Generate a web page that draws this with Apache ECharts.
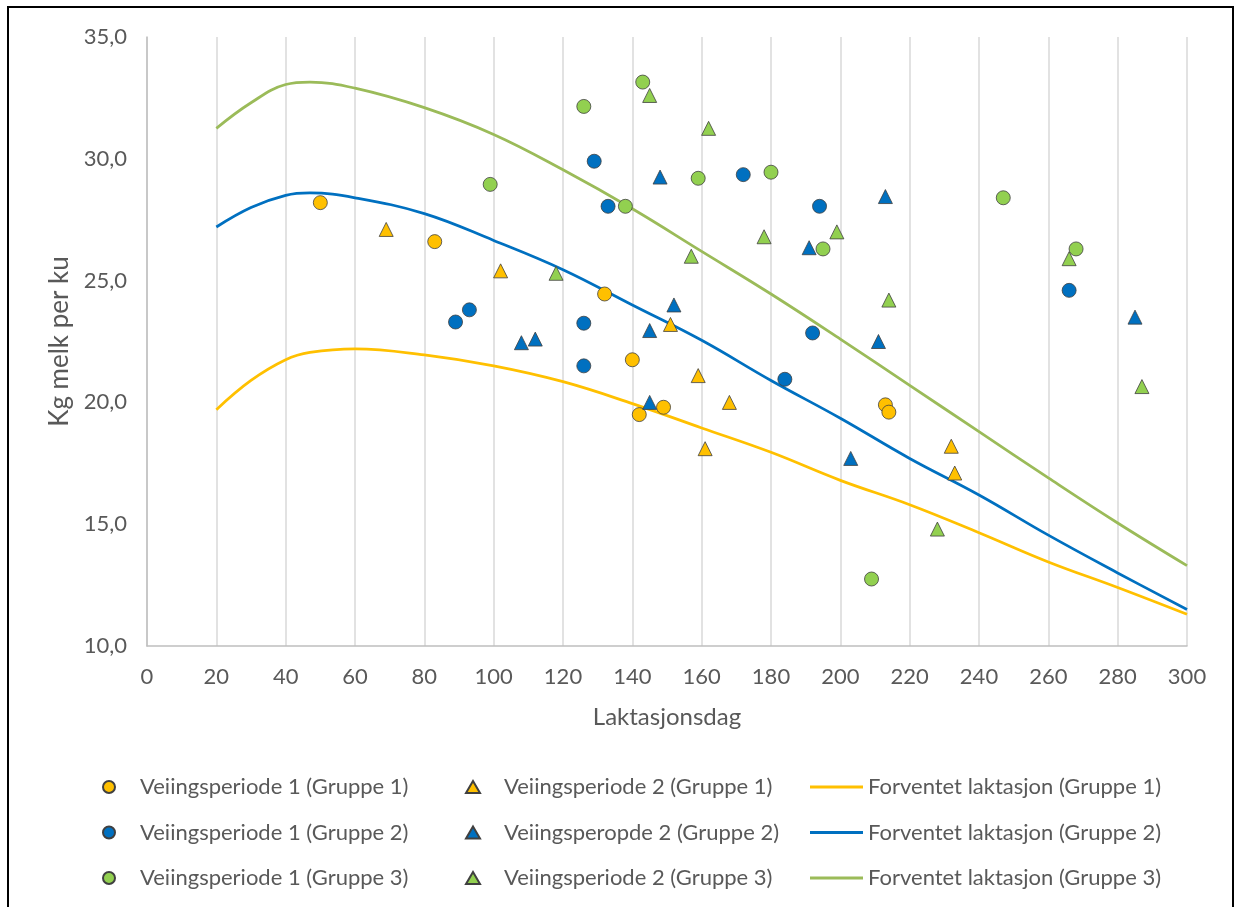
<!DOCTYPE html>
<html>
<head>
<meta charset="utf-8">
<script src="https://cdn.jsdelivr.net/npm/echarts@6/dist/echarts.min.js"></script>
<style>
  html, body { margin: 0; padding: 0; background: #fff; }
  #frame { position: absolute; left: 7px; top: 6px; width: 1227px; height: 920px; border: 2px solid #000; box-sizing: border-box; }
  #main { position: absolute; left: 0; top: 0; width: 1235px; height: 907px; }
</style>
</head>
<body>
<div id="frame"></div>
<div id="main"></div>
<script>
// expected lactation curves
var curveDays = [20, 30, 40, 47, 60, 80, 100, 120, 140, 160, 180, 200, 220, 240, 260, 280, 300];
var curveG1 = [19.7, 20.9, 21.75, 22.05, 22.2, 21.95, 21.5, 20.85, 19.95, 18.95, 17.95, 16.8, 15.8, 14.65, 13.45, 12.4, 11.3];
var curveG2 = [27.2, 28.0, 28.5, 28.6, 28.4, 27.75, 26.65, 25.45, 24.0, 22.55, 20.9, 19.35, 17.7, 16.2, 14.55, 13.0, 11.5];
var curveG3 = [31.25, 32.3, 33.05, 33.15, 32.9, 32.1, 31.0, 29.55, 27.95, 26.2, 24.45, 22.6, 20.7, 18.8, 16.9, 15.05, 13.3];

// weighing period 1 (circles)
var p1g1Day = [50, 83, 132, 140, 142, 149, 213, 214];
var p1g1Kg  = [28.2, 26.6, 24.45, 21.75, 19.5, 19.8, 19.9, 19.6];
var p1g2Day = [89, 93, 129, 133, 126, 126, 172, 194, 192, 184, 266];
var p1g2Kg  = [23.3, 23.8, 29.9, 28.05, 23.25, 21.5, 29.35, 28.05, 22.85, 20.95, 24.6];
var p1g3Day = [99, 126, 143, 138, 159, 180, 195, 247, 268, 209];
var p1g3Kg  = [28.95, 32.15, 33.15, 28.05, 29.2, 29.45, 26.3, 28.4, 26.3, 12.75];

// weighing period 2 (triangles)
var p2g1Day = [69, 102, 151, 159, 168, 161, 232, 233];
var p2g1Kg  = [27.1, 25.4, 23.2, 21.1, 20.0, 18.1, 18.2, 17.1];
var p2g2Day = [108, 112, 148, 145, 152, 145, 213, 191, 211, 203, 285];
var p2g2Kg  = [22.45, 22.6, 29.25, 22.95, 24.0, 20.0, 28.45, 26.35, 22.5, 17.7, 23.5];
var p2g3Day = [145, 162, 118, 157, 178, 199, 214, 266, 287, 228];
var p2g3Kg  = [32.6, 31.25, 25.3, 26.0, 26.8, 27.0, 24.2, 25.9, 20.65, 14.8];

var xTicks = [0, 300, 20];
var yTicks = [10, 35, 5];

var orange = '#FFC000', blue = '#0070C0', green = '#92D050', lineGreen = '#9BBB59';
var txt = '#595959';
var font = 'Lato';
var triIcon = 'path://M7,0 L14,12 L0,12 Z';

function pairs(xs, ys) {
    return xs.map(function (x, i) { return [x, ys[i]]; });
}

function curve(name, ys, color) {
    return {
        name: name, type: 'line', smooth: 0.4, symbol: 'none', z: 1,
        lineStyle: { color: color, width: 2.75 }, itemStyle: { color: color },
        data: pairs(curveDays, ys)
    };
}

function dots(name, xs, ys, color, symbol) {
    return {
        name: name, type: 'scatter', symbol: symbol, symbolSize: 14, z: 3,
        itemStyle: { color: color, borderColor: '#404040', borderWidth: 0.8, opacity: 1 },
        data: pairs(xs, ys)
    };
}

var names1 = ['Veiingsperiode 1 (Gruppe 1)', 'Veiingsperiode 1 (Gruppe 2)', 'Veiingsperiode 1 (Gruppe 3)'];
var names2 = ['Veiingsperiode 2 (Gruppe 1)', 'Veiingsperopde 2 (Gruppe 2)', 'Veiingsperiode 2 (Gruppe 3)'];
var names3 = ['Forventet laktasjon (Gruppe 1)', 'Forventet laktasjon (Gruppe 2)', 'Forventet laktasjon (Gruppe 3)'];

function legend(left, names, icon, w, h) {
    return {
        orient: 'vertical', left: left, top: 770,
        data: names.map(function (n) { return { name: n, icon: icon }; }),
        itemWidth: w, itemHeight: h, itemGap: 21.5, symbolKeepAspect: true,
        textStyle: { color: txt, fontFamily: font, fontSize: 22, lineHeight: 24 }
    };
}

var myChart = echarts.init(document.getElementById('main'));
myChart.setOption({
    animation: false,
    backgroundColor: 'transparent',
    grid: { left: 147, right: 48, top: 37, bottom: 261 },
    legend: [
        legend(97, names1, 'circle', 52, 12),
        legend(460, names2, triIcon, 52, 12),
        legend(805, names3, 'rect', 53, 3)
    ],
    xAxis: {
        type: 'value', min: xTicks[0], max: xTicks[1], interval: xTicks[2],
        name: 'Laktasjonsdag', nameLocation: 'middle', nameGap: 59,
        nameTextStyle: { color: txt, fontFamily: font, fontSize: 24 },
        axisLine: { show: true, lineStyle: { color: '#BFBFBF', width: 1.5 } },
        axisTick: { show: false },
        axisLabel: { color: txt, fontFamily: font, fontSize: 22, margin: 20 },
        splitLine: { show: true, lineStyle: { color: '#D9D9D9', width: 1.5 } }
    },
    yAxis: {
        type: 'value', min: yTicks[0], max: yTicks[1], interval: yTicks[2],
        name: 'Kg melk per ku', nameLocation: 'middle', nameGap: 73,
        nameTextStyle: { color: txt, fontFamily: font, fontSize: 26 },
        axisLine: { show: true, lineStyle: { color: '#BFBFBF', width: 1.5 } },
        axisTick: { show: false },
        axisLabel: {
            color: txt, fontFamily: font, fontSize: 22, margin: 20,
            formatter: function (v) { return v.toFixed(1).replace('.', ','); }
        },
        splitLine: { show: false }
    },
    series: [
        curve(names3[0], curveG1, orange),
        curve(names3[1], curveG2, blue),
        curve(names3[2], curveG3, lineGreen),
        dots(names1[0], p1g1Day, p1g1Kg, orange, 'circle'),
        dots(names1[1], p1g2Day, p1g2Kg, blue, 'circle'),
        dots(names1[2], p1g3Day, p1g3Kg, green, 'circle'),
        dots(names2[0], p2g1Day, p2g1Kg, orange, 'triangle'),
        dots(names2[1], p2g2Day, p2g2Kg, blue, 'triangle'),
        dots(names2[2], p2g3Day, p2g3Kg, green, 'triangle')
    ]
});
</script>
</body>
</html>
